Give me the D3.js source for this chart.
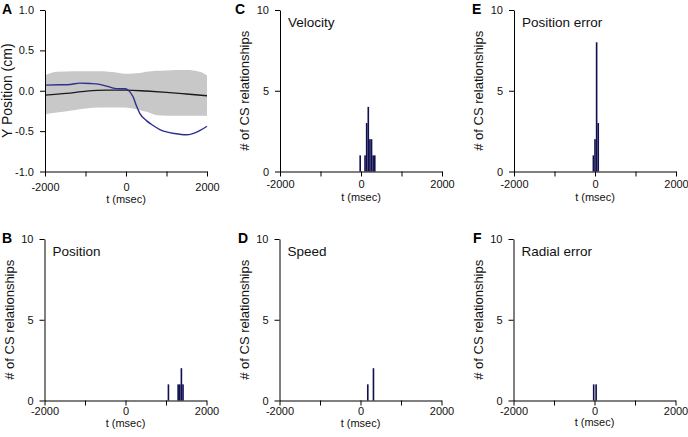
<!DOCTYPE html>
<html><head><meta charset="utf-8">
<script src="https://cdn.jsdelivr.net/npm/d3@7"></script>
<style>
html,body{margin:0;padding:0;background:#fff;}
svg{display:block;font-family:"Liberation Sans",Arial,sans-serif;}
</style></head>
<body>
<svg id="chart" width="688" height="437"></svg>
<script>
// ---------- Data ----------
const xTicks = [-2000, -1000, 0, 1000, 2000];
const xTickLabels = ["-2000", "", "0", "", "2000"];
const yTicksA = [1.0, 0.5, 0.0, -0.5, -1.0];
const yTicksHist = [0, 5, 10];

// Panel A: mean trajectory band, mean line and single-trial line
const bandT     = [-2000, -1710, -1300, -1000, -645, -235, 0, 175, 340, 505, 750, 1000, 1490, 1820, 2000];
const bandUpper = [0.19, 0.235, 0.24, 0.243, 0.243, 0.227, 0.21, 0.215, 0.22, 0.235, 0.247, 0.252, 0.256, 0.235, 0.19];
const bandLower = [-0.29, -0.27, -0.24, -0.22, -0.206, -0.206, -0.206, -0.22, -0.24, -0.26, -0.3, -0.31, -0.31, -0.31, -0.31];
const meanT = [-2000, -1470, -975, -480, 0, 505, 1000, 1490, 2000];
const meanY = [-0.054, -0.033, -0.004, 0.008, 0.008, -0.004, -0.02, -0.04, -0.062];
const blueT = [-2000, -1630, -1380, -1140, -890, -685, -480, -316, -150, -30, 50, 175, 260, 340, 505, 670, 835, 1000, 1200, 1490, 1650, 1820, 2000];
const blueY = [0.07, 0.074, 0.078, 0.095, 0.09, 0.082, 0.058, 0.033, 0.025, 0.025, 0.01, -0.075, -0.19, -0.28, -0.37, -0.43, -0.48, -0.51, -0.53, -0.545, -0.53, -0.495, -0.44];

// Histograms: bin start (ms) and count, bin width 40 ms
const binWidth = 40;
const posStart = [1040, 1280, 1320, 1360, 1400];
const posCount = [1, 1, 1, 2, 1];
const velStart = [-40, 80, 120, 160, 200, 240, 280, 320];
const velCount = [1, 1, 3, 4, 2, 2, 1, 1];
const spdStart = [160, 300];
const spdCount = [1, 2];
const perStart = [-60, -20, 20, 60];
const perCount = [1, 2, 8, 3];
const radStart = [-40, 20];
const radCount = [1, 1];

const histTitles = ["Position", "Velocity", "Speed", "Position error", "Radial error"];

// ---------- Layout ----------
const svg = d3.select("#chart");
const W = 162, H = 161.5;
const panels = [
  {id:"A", left:45,    top:10,  pad:7,   xlab:31, lx:-43},
  {id:"B", left:44.5,  top:239, pad:2,   xlab:26, lx:-42.5, title:histTitles[0], s:posStart, c:posCount},
  {id:"C", left:280,   top:10,  pad:4,   xlab:29, lx:-45, title:histTitles[1], s:velStart, c:velCount},
  {id:"D", left:279.5, top:239, pad:2,   xlab:26, lx:-41.5, title:histTitles[2], s:spdStart, c:spdCount},
  {id:"E", left:514,   top:10,  pad:4,   xlab:29, lx:-42, title:histTitles[3], s:perStart, c:perCount},
  {id:"F", left:513.5, top:239, pad:2,   xlab:25.5, lx:-40.5, title:histTitles[4], s:radStart, c:radCount}
];

const tickFont = "11px";
const barColor = "#10104f";

function styleAxis(g){
  g.selectAll("path.domain").attr("stroke","#000").attr("stroke-width",1);
  g.selectAll(".tick line").attr("stroke","#000").attr("stroke-width",1);
  g.selectAll(".tick text").attr("fill","#111").style("font-size",tickFont)
    .style("font-family",'"Liberation Sans",Arial,sans-serif');
}

panels.forEach((p)=>{
  const g = svg.append("g").attr("transform",`translate(${p.left},${p.top})`);
  const x = d3.scaleLinear().domain([-2000,2000]).range([0,W]);
  const isA = p.id==="A";
  const y = isA ? d3.scaleLinear().domain([-1,1]).range([H,0])
                : d3.scaleLinear().domain([0,10]).range([H,0]);

  if(isA){
    const band = bandT.map((t,k)=>({t, u:bandUpper[k], l:bandLower[k]}));
    g.append("path").datum(band)
      .attr("d", d3.area().x(d=>x(d.t)).y0(d=>y(d.l)).y1(d=>y(d.u)).curve(d3.curveMonotoneX))
      .attr("fill","#c8c8c8");
    g.append("path").datum(meanT.map((t,k)=>[t,meanY[k]]))
      .attr("d", d3.line().x(d=>x(d[0])).y(d=>y(d[1])).curve(d3.curveMonotoneX))
      .attr("fill","none").attr("stroke","#1a1a1a").attr("stroke-width",1.4);
    g.append("path").datum(blueT.map((t,k)=>[t,blueY[k]]))
      .attr("d", d3.line().x(d=>x(d[0])).y(d=>y(d[1])).curve(d3.curveMonotoneX))
      .attr("fill","none").attr("stroke","#2f2f8c").attr("stroke-width",1.4);
  } else {
    const bars = p.s.map((s,k)=>({s, c:p.c[k]}));
    g.selectAll("rect.bar").data(bars).enter().append("rect")
      .attr("class","bar")
      .attr("x", d=>x(d.s))
      .attr("width", d=>x(d.s+binWidth)-x(d.s))
      .attr("y", d=>y(d.c))
      .attr("height", d=>y(0)-y(d.c))
      .attr("fill", barColor);
    g.append("text").attr("x",8).attr("y",16.5).text(p.title)
      .style("font-size","13.5px").attr("fill","#111");
  }

  // x axis
  const xa = g.append("g").attr("transform",`translate(0,${H})`)
    .call(d3.axisBottom(x).tickValues(xTicks).tickFormat((d,k)=>xTickLabels[k]).tickSize(5).tickPadding(p.pad).tickSizeOuter(0));
  styleAxis(xa);
  // y axis
  const ya = g.append("g")
    .call(d3.axisLeft(y).tickValues(isA?yTicksA:yTicksHist)
      .tickFormat(isA? d3.format(".1f") : d3.format("d")).tickSize(5).tickPadding(6).tickSizeOuter(0));
  styleAxis(ya);
  ya.selectAll(".tick text").text(d=> isA ? d3.format(".1f")(d).replace("−","-") : d);

  // x label
  g.append("text").attr("x",W/2).attr("y",H+p.xlab).attr("text-anchor","middle")
    .text("t (msec)").style("font-size","11px").attr("fill","#111");
  // y label
  g.append("text").attr("transform",`translate(${isA?-33.5:-31},${H/2}) rotate(-90)`)
    .attr("text-anchor","middle")
    .text(isA ? "Y Position (cm)" : "# of CS relationships")
    .style("font-size", isA ? "14px" : "13px").attr("fill","#111");
  // panel letter
  g.append("text").attr("x", p.lx).attr("y", 4)
    .text(p.id).style("font-size","14px").style("font-weight","bold").attr("fill","#000");
});
</script>
</body></html>
